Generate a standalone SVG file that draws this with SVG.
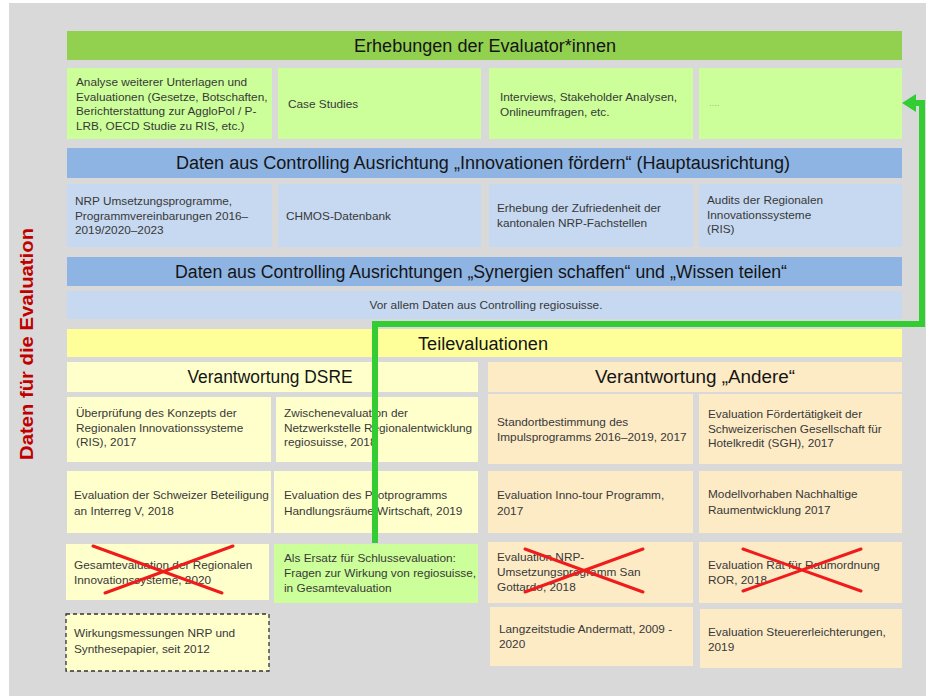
<svg xmlns="http://www.w3.org/2000/svg" width="926" height="696" viewBox="0 0 926 696">
<style>
.hd{font-family:"Liberation Sans",Arial,sans-serif;font-size:18px;fill:#151515;text-anchor:middle}
.t{font-family:"Liberation Sans",Arial,sans-serif;font-size:11.8px;fill:#383838}
.g1{fill:#92d050}.g2{fill:#ccff99}.b1{fill:#8eb4e3}.b2{fill:#c6d9f1}
.y1{fill:#ffff99}.y2{fill:#ffffcc}.o2{fill:#fdebc6}
.x{stroke:#f01c1c;stroke-width:3;stroke-linecap:round;fill:none}
.con{fill:none;stroke:#33cc33;stroke-width:6}
</style>
<defs>
<marker id="arr" viewBox="0 0 14 18" refX="6" refY="9" markerWidth="14" markerHeight="18" markerUnits="userSpaceOnUse" orient="auto">
<path d="M0,0 L14,9 L0,18 Z" fill="#33cc33"/>
</marker>
</defs>
<rect x="0" y="0" width="926" height="696" fill="#ffffff"/>
<rect x="9" y="3" width="917" height="693" fill="#d9d9d9"/>
<text transform="translate(33,344) rotate(-90)" text-anchor="middle" font-family="'Liberation Sans',Arial,sans-serif" font-size="19" font-weight="bold" fill="#c00000" textLength="232" lengthAdjust="spacingAndGlyphs">Daten für die Evaluation</text>

<g id="h-erhebungen"><rect class="g1" x="67" y="31" width="835" height="29"/><text class="hd" x="485" y="52" textLength="262" lengthAdjust="spacingAndGlyphs">Erhebungen der Evaluator*innen</text></g>
<g id="e1"><rect class="g2" x="67" y="68" width="205" height="71"/><text class="t" x="76"><tspan x="76" y="86">Analyse weiterer Unterlagen und</tspan><tspan x="76" y="100.5">Evaluationen (Gesetze, Botschaften,</tspan><tspan x="76" y="115">Berichterstattung zur AggloPol / P-</tspan><tspan x="76" y="129.5">LRB, OECD Studie zu RIS, etc.)</tspan></text></g>
<g id="e2"><rect class="g2" x="278" y="68" width="203" height="71"/><text class="t" x="288" y="108">Case Studies</text></g>
<g id="e3"><rect class="g2" x="489" y="68" width="204" height="71"/><text class="t"><tspan x="500" y="101">Interviews, Stakeholder Analysen,</tspan><tspan x="500" y="115.5">Onlineumfragen, etc.</tspan></text></g>
<g id="e4"><rect class="g2" x="699" y="68" width="203" height="71"/><text x="709" y="106" font-family="'Liberation Sans',Arial,sans-serif" font-size="8" fill="#8a8a8a">….</text></g>

<g id="h-innovation"><rect class="b1" x="67" y="148" width="835" height="30"/><text class="hd" x="483" y="169" textLength="614" lengthAdjust="spacingAndGlyphs">Daten aus Controlling Ausrichtung „Innovationen fördern“ (Hauptausrichtung)</text></g>
<g id="c1"><rect class="b2" x="67" y="184" width="205" height="63"/><text class="t"><tspan x="75" y="205">NRP Umsetzungsprogramme,</tspan><tspan x="75" y="219.5">Programmvereinbarungen 2016–</tspan><tspan x="75" y="234">2019/2020–2023</tspan></text></g>
<g id="c2"><rect class="b2" x="278" y="184" width="203" height="63"/><text class="t" x="286" y="219.5">CHMOS-Datenbank</text></g>
<g id="c3"><rect class="b2" x="489" y="184" width="204" height="63"/><text class="t"><tspan x="497" y="212">Erhebung der Zufriedenheit der</tspan><tspan x="497" y="226.5">kantonalen NRP-Fachstellen</tspan></text></g>
<g id="c4"><rect class="b2" x="699" y="184" width="203" height="63"/><text class="t"><tspan x="707" y="204">Audits der Regionalen</tspan><tspan x="707" y="218.5">Innovationssysteme</tspan><tspan x="707" y="233">(RIS)</tspan></text></g>

<g id="h-synergien"><rect class="b1" x="67" y="257" width="835" height="29"/><text class="hd" x="481" y="278" textLength="612" lengthAdjust="spacingAndGlyphs">Daten aus Controlling Ausrichtungen „Synergien schaffen“ und „Wissen teilen“</text></g>
<g id="s1"><rect class="b2" x="67" y="291" width="835" height="28"/><text class="t" x="486" y="309" text-anchor="middle" textLength="233" lengthAdjust="spacingAndGlyphs">Vor allem Daten aus Controlling regiosuisse.</text></g>

<g id="h-teil"><rect class="y1" x="67" y="329" width="835" height="28"/><text class="hd" x="483" y="350" textLength="130" lengthAdjust="spacingAndGlyphs">Teilevaluationen</text></g>
<g id="h-dsre"><rect class="y2" x="67" y="362" width="411" height="30"/><text class="hd" x="270" y="383" textLength="165" lengthAdjust="spacingAndGlyphs">Verantwortung DSRE</text></g>
<g id="h-andere"><rect class="o2" x="488" y="362" width="414" height="30"/><text class="hd" x="695" y="383" textLength="200" lengthAdjust="spacingAndGlyphs">Verantwortung „Andere“</text></g>

<g id="d1"><rect class="y2" x="67" y="397" width="204" height="65"/><text class="t"><tspan x="76" y="417">Überprüfung des Konzepts der</tspan><tspan x="76" y="431.5">Regionalen Innovationssysteme</tspan><tspan x="76" y="446">(RIS), 2017</tspan></text></g>
<g id="d2"><rect class="y2" x="276" y="397" width="202" height="65"/><text class="t"><tspan x="284" y="417">Zwischenevaluation der</tspan><tspan x="284" y="431.5">Netzwerkstelle Regionalentwicklung</tspan><tspan x="284" y="446">regiosuisse, 2018</tspan></text></g>
<g id="a1"><rect class="o2" x="488" y="394" width="205" height="70"/><text class="t"><tspan x="497" y="426">Standortbestimmung des</tspan><tspan x="497" y="440.5">Impulsprogramms 2016–2019, 2017</tspan></text></g>
<g id="a2"><rect class="o2" x="699" y="394" width="203" height="70"/><text class="t"><tspan x="708" y="418">Evaluation Fördertätigkeit der</tspan><tspan x="708" y="432.5">Schweizerischen Gesellschaft für</tspan><tspan x="708" y="447">Hotelkredit (SGH), 2017</tspan></text></g>

<g id="d3"><rect class="y2" x="67" y="471" width="204" height="62"/><text class="t"><tspan x="74" y="499">Evaluation der Schweizer Beteiligung</tspan><tspan x="74" y="514.5">an Interreg V, 2018</tspan></text></g>
<g id="d4"><rect class="y2" x="274" y="471" width="204" height="62"/><text class="t"><tspan x="284" y="499">Evaluation des Pilotprogramms</tspan><tspan x="284" y="514.5">Handlungsräume Wirtschaft, 2019</tspan></text></g>
<g id="a3"><rect class="o2" x="488" y="471" width="205" height="62"/><text class="t"><tspan x="497" y="499">Evaluation Inno-tour Programm,</tspan><tspan x="497" y="514.5">2017</tspan></text></g>
<g id="a4"><rect class="o2" x="699" y="471" width="203" height="62"/><text class="t"><tspan x="708" y="498">Modellvorhaben Nachhaltige</tspan><tspan x="708" y="513.5">Raumentwicklung 2017</tspan></text></g>

<g id="d5"><rect class="y2" x="66" y="544" width="203" height="56"/><text class="t"><tspan x="74" y="569">Gesamtevaluation der Regionalen</tspan><tspan x="74" y="584">Innovationssysteme, 2020</tspan></text><path class="x" d="M93,546 L222,593 M233,546 L105,593"/></g>
<g id="d6"><rect class="g2" x="274" y="544" width="204" height="59"/><text class="t"><tspan x="284" y="562">Als Ersatz für Schlussevaluation:</tspan><tspan x="284" y="577">Fragen zur Wirkung von regiosuisse,</tspan><tspan x="284" y="592">in Gesamtevaluation</tspan></text></g>
<g id="a5"><rect class="o2" x="488" y="542" width="205" height="61"/><text class="t"><tspan x="497" y="561">Evaluation NRP-</tspan><tspan x="497" y="576">Umsetzungsprogramm  San</tspan><tspan x="497" y="591">Gottardo, 2018</tspan></text><path class="x" d="M525,549 L643,592 M643,549 L525,592"/></g>
<g id="a6"><rect class="o2" x="699" y="542" width="203" height="61"/><text class="t"><tspan x="708" y="569">Evaluation Rat für Raumordnung</tspan><tspan x="708" y="583.5">ROR, 2018</tspan></text><path class="x" d="M743,549 L861,591 M861,549 L743,591"/></g>

<g id="d7"><rect class="y2" x="66" y="614" width="203" height="57" stroke="#333" stroke-width="1.3" stroke-dasharray="4 3"/><text class="t"><tspan x="74" y="637">Wirkungsmessungen NRP und</tspan><tspan x="74" y="652.5">Synthesepapier, seit 2012</tspan></text></g>
<g id="a7"><rect class="o2" x="490" y="607" width="203" height="59"/><text class="t"><tspan x="499" y="633">Langzeitstudie Andermatt, 2009 -</tspan><tspan x="499" y="648">2020</tspan></text></g>
<g id="a8"><rect class="o2" x="700" y="609" width="202" height="59"/><text class="t"><tspan x="708" y="636">Evaluation Steuererleichterungen,</tspan><tspan x="708" y="650.5">2019</tspan></text></g>

<g id="connectors">
<path class="con" d="M375,543 V324 H922 V103 H910" marker-end="url(#arr)"/>
</g>
</svg>
